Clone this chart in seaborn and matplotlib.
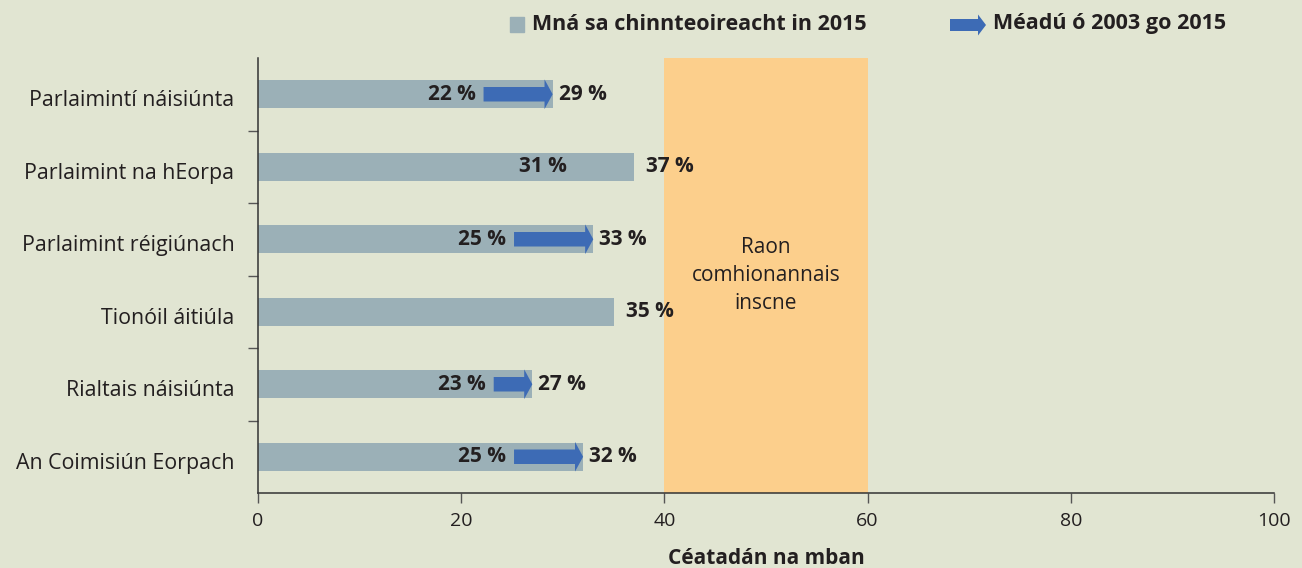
import matplotlib
matplotlib.use("Agg")
import matplotlib.pyplot as plt
import seaborn as sns
import pandas as pd
from matplotlib.patches import Rectangle, FancyArrow
from matplotlib.transforms import ScaledTranslation

categories = ["Parlaimintí náisiúnta", "Parlaimint na hEorpa", "Parlaimint réigiúnach",
              "Tionóil áitiúla", "Rialtais náisiúnta", "An Coimisiún Eorpach"]
values_2015 = [29, 37, 33, 35, 27, 32]
values_2003 = [22, 31, 25, None, 23, 25]
arrow_drawn = [True, False, True, False, True, True]
xticks = [0, 20, 40, 60, 80, 100]
band = (40, 60)
band_label = "Raon\ncomhionannais\ninscne"
legend_bar = "Mná sa chinnteoireacht in 2015"
legend_arrow = "Méadú ó 2003 go 2015"
xlabel = "Céatadán na mban"

BG = "#E1E5D2"
BAR = "#9BB0B7"
ORANGE = "#FCCF8C"
BLUE = "#3D6BB5"
TXT = "#231F20"

sns.set_theme(style="white")
plt.rcParams['font.family'] = ['Open Sans', 'DejaVu Sans']

fig = plt.figure(figsize=(13.02, 5.68), dpi=100, facecolor=BG)
ax = fig.add_axes([258/1302, 75/568, (1274-258)/1302, (493-58)/568])
ax.set_facecolor(BG)

df = pd.DataFrame({"cat": categories, "v": values_2015})
ax.axvspan(band[0], band[1], color=ORANGE, zorder=0, lw=0)
sns.barplot(data=df, y="cat", x="v", orient="h", color=BAR, width=0.39,
            saturation=1, ax=ax, zorder=2, linewidth=0, edgecolor=BAR)

ax.text((band[0]+band[1])/2, 2.5, band_label, ha="center", va="center",
        fontsize=15, color=TXT, linespacing=1.42, zorder=3)

for i, (v15, v03, drawn) in enumerate(zip(values_2015, values_2003, arrow_drawn)):
    if v03 is not None:
        ax.text(v03 - 0.6, i, f"{v03} %", ha="right", va="center", fontsize=15,
                fontweight="bold", color=TXT, zorder=4)
        if drawn:
            ax.add_patch(FancyArrow(v03 + 0.2, i, v15 - v03 - 0.2, 0, width=0.2,
                                    head_width=0.41, head_length=0.8,
                                    length_includes_head=True, color=BLUE,
                                    lw=0, zorder=3))
    off = 0.6 if drawn else 1.2
    ax.text(v15 + off, i, f"{v15} %", ha="left", va="center", fontsize=15,
            fontweight="bold", color=TXT, zorder=4)

ax.set_xlim(0, 100)
ax.set_ylim(5.5, -0.5)
ax.set_xticks(xticks)
ax.set_xticklabels([str(t) for t in xticks], fontsize=14, color=TXT)
ax.set_yticks(range(len(categories)))
ax.set_yticklabels(categories, fontsize=15.4, color=TXT)
ax.set_yticks([i + 0.5 for i in range(len(categories) - 1)], minor=True)
ax.tick_params(axis="y", which="major", length=0, pad=17)
ax.tick_params(axis="y", which="minor", length=7, width=1, color="#555555", left=True)
ax.tick_params(axis="x", length=7, width=1, color="#555555", bottom=True, pad=7)
for lab in ax.get_yticklabels():
    lab.set_transform(lab.get_transform() + ScaledTranslation(0, -0.04, fig.dpi_scale_trans))
ax.set_ylabel("")
ax.set_xlabel(xlabel, fontsize=15, fontweight="bold", color=TXT, labelpad=13)
for s in ["top", "right"]:
    ax.spines[s].set_visible(False)
for s in ["left", "bottom"]:
    ax.spines[s].set_color("#333333")
    ax.spines[s].set_linewidth(1.1)
ax.grid(False)

# legend
fig.patches.append(Rectangle((510/1302, 1 - 32/568), 14/1302, 15/568,
                             transform=fig.transFigure, color=BAR, figure=fig))
fig.text(532/1302, 1 - 24/568, legend_bar, ha="left", va="center", fontsize=15.5,
         fontweight="bold", color=TXT)
fig.patches.append(FancyArrow(950/1302, 1 - 25/568, 36/1302, 0, width=12/568,
                              head_width=21/568, head_length=8/1302,
                              length_includes_head=True, color=BLUE, lw=0,
                              transform=fig.transFigure, figure=fig))
fig.text(993/1302, 1 - 24/568, legend_arrow, ha="left", va="center", fontsize=15.5,
         fontweight="bold", color=TXT)

fig.savefig("out.png", dpi=100, facecolor=BG)
